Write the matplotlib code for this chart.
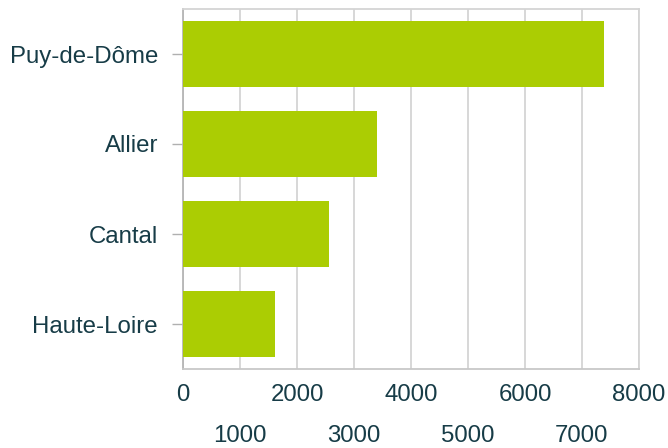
import matplotlib
matplotlib.use("Agg")
import matplotlib.pyplot as plt
from matplotlib.ticker import FixedLocator

plt.rcParams['font.family'] = ['Liberation Sans', 'DejaVu Sans']

categories = ["Puy-de-Dôme", "Allier", "Cantal", "Haute-Loire"]
values = [7380, 3400, 2560, 1610]
major_ticks = [0, 2000, 4000, 6000, 8000]
minor_ticks = [1000, 3000, 5000, 7000]

bar_color = "#abcd03"
text_color = "#173c47"
grid_color = "#d4d4d4"

fig = plt.figure(figsize=(6.68, 4.48), dpi=100)
ax = fig.add_axes([183/668, 1 - 369/448, (639-183)/668, (369-9)/448])

ypos = list(range(len(categories)))
ax.barh(ypos, values, height=0.73, color=bar_color, zorder=3)
ax.set_ylim(len(categories) - 0.5, -0.5)
ax.set_xlim(0, 8000)

ax.set_yticks(ypos)
ax.set_yticklabels(categories, fontsize=17.3, color=text_color)
ax.tick_params(axis='y', length=8, width=1, color='#b0b0b0', pad=10)

ax.xaxis.set_major_locator(FixedLocator(major_ticks))
ax.xaxis.set_minor_locator(FixedLocator(minor_ticks))
ax.set_xticklabels([str(v) for v in major_ticks], fontsize=17.3, color=text_color)
ax.set_xticklabels([str(v) for v in minor_ticks], minor=True, fontsize=17.3, color=text_color)
ax.tick_params(axis='x', which='major', length=0, pad=11)
ax.tick_params(axis='x', which='minor', length=0, pad=40)

ax.grid(True, axis='x', which='both', color=grid_color, linewidth=1.3, zorder=0)
ax.set_axisbelow(True)

for s in ['top', 'right']:
    ax.spines[s].set_color(grid_color)
    ax.spines[s].set_linewidth(1.3)
ax.spines['left'].set_color('#b5b5b5')
ax.spines['left'].set_linewidth(1.3)
ax.spines['bottom'].set_color('#c8c8c8')
ax.spines['bottom'].set_linewidth(1.3)

fig.savefig("out.png", dpi=100)
